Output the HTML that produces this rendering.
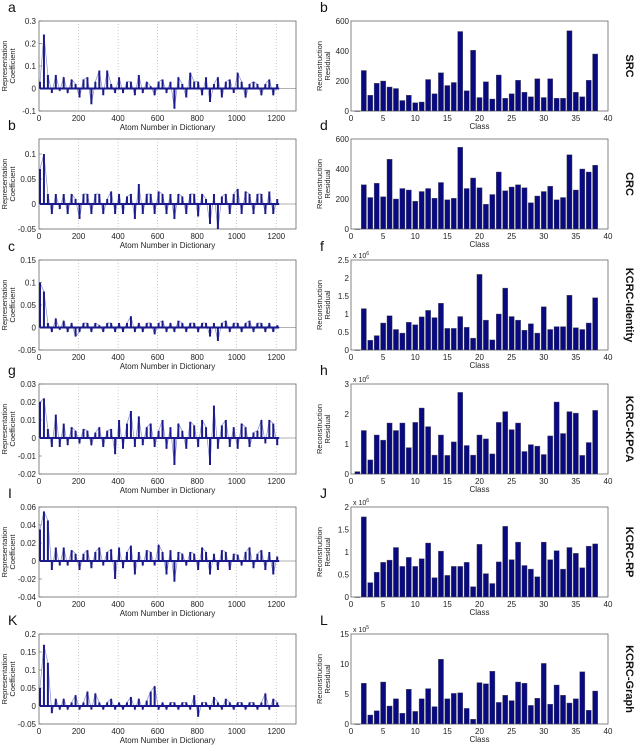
<!DOCTYPE html>
<html><head><meta charset="utf-8"><style>
body{margin:0;background:#fff;width:640px;height:747px;overflow:hidden}
svg text{font-family:"Liberation Sans",sans-serif}
</style></head><body>
<svg id="fig" width="640" height="747" xmlns="http://www.w3.org/2000/svg"></svg>
<script>
// ---- data ----
const barClasses = Array.from({length:38},(_,i)=>i+1);
const srcVals=[0,270,105,185,200,160,150,70,105,55,60,210,115,255,170,190,530,135,405,90,195,80,240,85,115,205,125,95,215,90,215,85,85,535,125,95,205,380];
const crcVals=[0,295,210,305,215,465,200,270,260,185,250,270,205,310,195,205,545,270,340,275,165,230,380,255,280,295,275,175,220,250,285,195,210,495,260,400,380,425];
const identVals=[0,1.15,0.27,0.4,0.75,0.95,0.57,0.47,0.77,0.7,0.92,1.1,0.9,1.3,0.6,0.6,0.93,0.63,0.33,2.1,0.83,0.28,1.0,1.72,0.93,0.83,0.55,0.73,0.47,1.2,0.57,0.65,0.65,1.52,0.62,0.57,0.75,1.45];
const kpcaVals=[0.08,1.45,0.47,1.3,1.13,1.7,1.45,1.7,0.88,1.72,2.2,1.58,0.63,1.3,0.62,1.07,2.72,0.95,0.63,1.3,1.17,0.67,1.72,2.08,1.48,1.7,0.75,0.98,0.93,0.65,1.27,2.4,1.35,2.08,2.03,0.62,1.05,2.12];
const rpVals=[0,1.78,0.32,0.55,0.77,0.82,1.1,0.68,0.88,0.68,0.85,1.2,0.43,1.02,0.48,0.68,0.68,0.77,0.23,1.17,0.52,0.3,0.78,1.57,0.83,1.22,0.7,0.62,0.45,1.22,0.83,1.03,0.62,1.1,0.97,0.65,1.13,1.18];
const graphVals=[0,6.8,1.5,2.2,7.0,3.0,4.2,1.8,5.8,2.1,4.2,5.9,2.9,10.8,4.2,5.1,5.2,2.6,0.8,6.9,6.7,8.8,3.6,4.8,3.9,7.0,6.8,3.1,4.3,10.1,3.3,6.5,4.8,3.5,4.2,8.7,2.3,5.5];
const coefA=[0.03,0.24,0.06,-0.02,0.06,-0.01,0.05,-0.02,0.04,0.02,-0.04,0.04,0.05,-0.07,0.03,0.08,-0.03,0.08,0.02,-0.02,0.05,-0.02,0.03,0.03,-0.03,0.06,-0.02,0.03,0.01,-0.03,0.03,0.04,-0.02,0.03,-0.09,0.05,0.02,-0.04,0.07,0.03,0.03,-0.03,0.05,-0.06,0.02,0.05,-0.04,0.03,0.04,-0.02,0.07,0.03,-0.04,0.02,0.03,0.02,-0.03,0.02,0.04,-0.03,0.02];
const coefB=[0.07,0.1,0.02,-0.02,0.02,-0.01,0.02,-0.02,0.02,0.01,-0.03,0.02,0.02,-0.02,0.02,0.02,-0.02,0.01,0.025,-0.02,0.02,-0.02,0.015,0.02,-0.03,0.04,-0.02,0.02,0.02,-0.02,0.025,0.02,-0.02,0.02,-0.03,0.02,0.015,-0.02,0.02,0.02,-0.025,0.02,0.01,-0.04,0.02,-0.05,0.015,0.02,-0.02,0.02,0.03,-0.02,0.025,0.02,-0.02,0.02,0.02,-0.02,0.025,-0.02,0.01];
const coefC=[0.1,0.08,0.01,-0.01,0.02,-0.005,0.015,-0.01,0.01,-0.02,-0.01,0.01,0.01,-0.01,0.01,0.005,-0.01,0.01,0.01,-0.01,0.01,-0.01,0.01,0.025,-0.01,0.01,-0.01,0.01,0.01,-0.015,0.01,0.015,-0.01,0.01,-0.01,0.015,0.01,-0.01,0.01,0.01,-0.01,0.01,0.01,-0.02,0.01,-0.03,0.01,0.015,-0.01,0.01,0.01,-0.01,0.01,0.015,-0.01,0.01,0.01,-0.01,0.01,-0.01,0.005];
const coefG=[0.02,0.022,0.005,-0.005,0.013,-0.005,0.008,-0.004,0.006,0.004,-0.003,0.005,0.004,-0.004,0.003,0.006,-0.005,0.004,0.005,-0.009,0.01,-0.006,0.008,0.015,-0.005,0.012,-0.004,0.006,0.008,-0.005,0.004,0.01,-0.006,0.006,-0.015,0.008,0.004,-0.006,0.009,0.007,-0.005,0.01,0.006,-0.015,0.018,-0.006,0.007,0.01,-0.005,0.006,-0.006,0.008,0.006,-0.005,0.003,0.004,0.01,-0.003,0.01,0.008,-0.004];
const coefI=[0.035,0.055,0.045,-0.01,0.015,-0.005,0.015,-0.005,0.012,0.008,-0.01,0.008,0.012,-0.008,0.01,0.015,-0.005,0.01,0.013,-0.02,0.015,-0.008,0.01,0.017,-0.015,0.01,-0.005,0.012,0.01,-0.005,0.018,0.01,-0.015,0.012,-0.023,0.01,0.008,-0.005,0.01,0.008,-0.01,0.015,0.01,-0.015,0.008,-0.01,0.012,0.01,-0.01,0.008,0.007,-0.005,0.01,0.015,-0.008,0.008,0.012,-0.01,0.01,-0.015,0.005];
const coefK=[0.05,0.17,0.12,-0.02,0.02,-0.01,0.02,-0.01,0.01,0.03,-0.01,0.01,0.04,-0.01,0.035,0.01,-0.01,0.01,0.02,-0.01,0.01,-0.01,0.01,0.025,-0.01,0.02,-0.01,0.015,0.04,0.055,-0.01,0.01,-0.01,0.01,0.01,-0.01,0.01,0.01,-0.01,0.03,-0.03,0.01,0.01,-0.01,0.025,0.01,-0.01,0.02,0.01,-0.01,0.01,0.01,-0.01,0.01,0.01,-0.01,0.01,0.035,-0.01,0.02,0.01];
const atomTicks=[0,200,400,600,800,1000,1200];
const classTicks=[0,5,10,15,20,25,30,35,40];

const NS="http://www.w3.org/2000/svg";
const svg=document.getElementById('fig');
function el(tag,attrs,parent,txt){const e=document.createElementNS(NS,tag);for(const k in attrs)e.setAttribute(k,attrs[k]);if(txt!==undefined)e.textContent=txt;(parent||svg).appendChild(e);return e;}

const tops=[21,139,260,384,507,634];
const H=90;
const L={x0:39,x1:296}, R={x0:351,x1:608};
const rows=[
 {lt:'a',rt:'b',name:'SRC',coef:coefA,cmin:-0.1,cmax:0.3,cticks:[-0.1,0,0.1,0.2,0.3],bars:srcVals,bmax:600,bticks:[0,200,400,600],exp:''},
 {lt:'b',rt:'d',name:'CRC',coef:coefB,cmin:-0.05,cmax:0.13,cticks:[-0.05,0,0.05,0.1],bars:crcVals,bmax:600,bticks:[0,200,400,600],exp:''},
 {lt:'c',rt:'f',name:'KCRC-Identity',coef:coefC,cmin:-0.05,cmax:0.15,cticks:[-0.05,0,0.05,0.1,0.15],bars:identVals,bmax:2.5,bticks:[0,0.5,1,1.5,2,2.5],exp:'6'},
 {lt:'g',rt:'h',name:'KCRC-KPCA',coef:coefG,cmin:-0.02,cmax:0.03,cticks:[-0.02,-0.01,0,0.01,0.02,0.03],bars:kpcaVals,bmax:3,bticks:[0,1,2,3],exp:'6'},
 {lt:'I',rt:'J',name:'KCRC-RP',coef:coefI,cmin:-0.04,cmax:0.06,cticks:[-0.04,-0.02,0,0.02,0.04,0.06],bars:rpVals,bmax:2,bticks:[0,0.5,1,1.5,2],exp:'6'},
 {lt:'K',rt:'L',name:'KCRC-Graph',coef:coefK,cmin:-0.05,cmax:0.2,cticks:[-0.05,0,0.05,0.1,0.15,0.2],bars:graphVals,bmax:15,bticks:[0,5,10,15],exp:'5'}
];

rows.forEach((r,ri)=>{
 const top=tops[ri], bot=top+H;
 const gl=el('g',{});
 
 
 const ax=v=>L.x0+(v/1300)*(L.x1-L.x0);
 const ay=v=>bot-(v-r.cmin)/(r.cmax-r.cmin)*H;
 el('rect',{x:L.x0,y:top,width:L.x1-L.x0,height:H,fill:'#fff',stroke:'#666','stroke-width':0.8},gl);
 atomTicks.forEach(t=>{
  if(t>0) el('line',{x1:ax(t),x2:ax(t),y1:top,y2:bot,stroke:'#aaa','stroke-width':0.6,'stroke-dasharray':'1,2'},gl);
  const tl=el('text',{x:ax(t),y:bot+10,'font-size':8,'text-anchor':'middle',fill:'#222'},gl,String(t));
  
  
 });
 r.cticks.forEach(t=>{
  const tl=el('text',{x:L.x0-3,y:ay(t)+3,'font-size':8,'text-anchor':'end',fill:'#222'},gl,String(t));
  
  
  el('line',{x1:L.x0,x2:L.x0+3,y1:ay(t),y2:ay(t),stroke:'#666','stroke-width':0.6},gl);
 });
 el('line',{x1:L.x0,x2:L.x1,y1:ay(0),y2:ay(0),stroke:'#666','stroke-width':0.6},gl);
 const pts=r.coef.map((v,i)=>ax(i*20+5)+','+ay(v)).join(' ');
 const pl=el('polyline',{points:pts,fill:'none',stroke:'#8a8ac4','stroke-width':0.7},gl);
 
 
 r.coef.forEach((v,i)=>{
  const s=el('line',{x1:ax(i*20+5),x2:ax(i*20+5),y1:ay(0),y2:ay(v),stroke:'#1a1a8c','stroke-width':2},gl);
  
  
 });
 const band=el('line',{x1:ax(5),x2:ax(1215),y1:ay(0),y2:ay(0),stroke:'#1a1a8c','stroke-width':2},gl);
 const xl=el('text',{x:(L.x0+L.x1)/2,y:bot+19,'font-size':8,'text-anchor':'middle',fill:'#222'},gl,'Atom Number in Dictionary');
 
 
 const yl=el('text',{transform:`translate(7,${top+H/2}) rotate(-90)`,'font-size':7.5,'text-anchor':'middle',fill:'#222'},gl);
 
 
 el('tspan',{x:0,dy:0},yl,'Representation');
 el('tspan',{x:0,dy:8},yl,'Coefficient');
 const lt=el('text',{x:8,y:top-9,'font-size':14,fill:'#111'},svg,r.lt);
 
 

 const gr=el('g',{});
 
 
 const bx=v=>R.x0+(v/40)*(R.x1-R.x0);
 const by=v=>bot-(v/r.bmax)*H;
 el('rect',{x:R.x0,y:top,width:R.x1-R.x0,height:H,fill:'#fff',stroke:'#666','stroke-width':0.8},gr);
 classTicks.forEach(t=>{
  const tl=el('text',{x:bx(t),y:bot+10,'font-size':8,'text-anchor':'middle',fill:'#222'},gr,String(t));
  
  
 });
 r.bticks.forEach(t=>{
  const tl=el('text',{x:R.x0-2,y:by(t)+3,'font-size':8,'text-anchor':'end',fill:'#222'},gr,String(t));
  
  
 });
 const bw=(R.x1-R.x0)/40*0.8;
 r.bars.forEach((v,i)=>{
  const c=barClasses[i];
  const b=el('rect',{x:bx(c)-bw/2,y:by(v),width:bw,height:Math.max(0.5,bot-by(v)),fill:'#0a0a80',stroke:'#555','stroke-width':0.4},gr);
  
  
 });
 if(r.exp){
  const ex=el('text',{x:R.x0+2,y:top-2,'font-size':7,fill:'#222'},gr,'x 10');
  
  
  el('tspan',{dy:-3,'font-size':5},ex,r.exp);
 }
 const cl=el('text',{x:(R.x0+R.x1)/2,y:bot+18,'font-size':8,'text-anchor':'middle',fill:'#222'},gr,'Class');
 
 
 const ry=el('text',{transform:`translate(322,${top+H/2}) rotate(-90)`,'font-size':7.5,'text-anchor':'middle',fill:'#222'},gr);
 
 
 el('tspan',{x:0,dy:0},ry,'Reconstruction');
 el('tspan',{x:0,dy:8},ry,'Residual');
 const rt=el('text',{x:320,y:top-9,'font-size':14,fill:'#111'},svg,r.rt);
 
 
 const nm=el('text',{transform:`translate(626,${top+H/2}) rotate(90)`,'font-size':11,'font-weight':'bold','text-anchor':'middle',fill:'#111'},svg,r.name);
 
 
});
</script>
</body></html>
